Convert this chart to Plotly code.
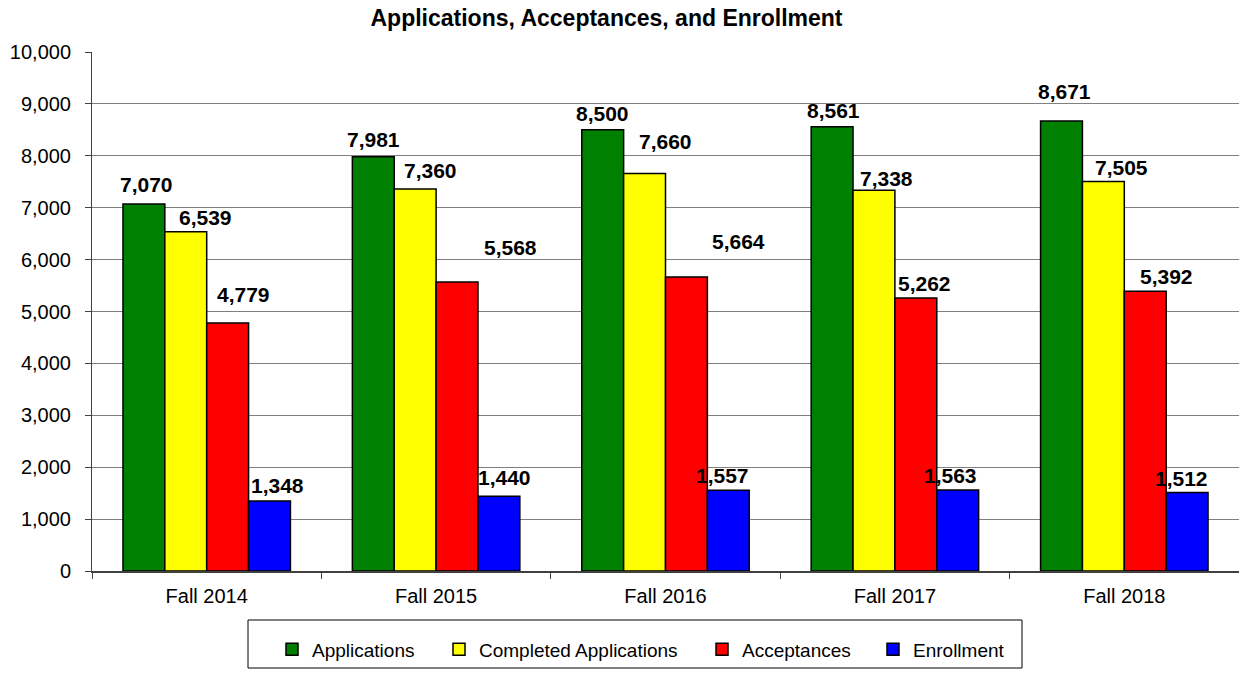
import plotly.graph_objects as go

categories = ["Fall 2014", "Fall 2015", "Fall 2016", "Fall 2017", "Fall 2018"]
applications = [7070, 7981, 8500, 8561, 8671]
completed = [6539, 7360, 7660, 7338, 7505]
acceptances = [4779, 5568, 5664, 5262, 5392]
enrollment = [1348, 1440, 1557, 1563, 1512]

series_names = ["Applications", "Completed Applications", "Acceptances", "Enrollment"]
series_values = [applications, completed, acceptances, enrollment]
series_colors = ["#008000", "#FFFF00", "#FF0000", "#0000FF"]

# hand-placed data label nudges seen in the reference (pixels: right, up)
label_dx = [[3, 0, 0, 1, 3],
            [20, 15, 21, 13, 18],
            [16, 53, 52, 9, 21],
            [8, 6, -6, -7, -6]]
label_dy = [[5, 3, 2, 2, 15],
            [0, 4, 17, -3, -1],
            [14, 20, 21, 0, 0],
            [1, 4, 0, 0, 0]]
# legend entry widths (px) to reproduce the reference spacing
legend_widths = [122, 218, 126, 92]

FONT = "Arial, Liberation Sans, sans-serif"

W, H = 1239, 679
ML, MT, MB = 92, 52, 108
PW, PH = W - ML, H - MT - MB
BARGAP = 0.27
NS = len(series_names)
BW = (1 - BARGAP) / NS

fig = go.Figure()
annotations = []
for j, (name, vals, color) in enumerate(zip(series_names, series_values, series_colors)):
    fig.add_trace(go.Bar(
        name=name, x=categories, y=vals,
        marker=dict(color=color, line=dict(color="black", width=1.5)),
        cliponaxis=False,
        legendwidth=legend_widths[j],
    ))
    for i, v in enumerate(vals):
        annotations.append(dict(
            x=i + (j - (NS - 1) / 2) * BW, y=v, xref="x", yref="y",
            text=f"<b>{v:,}</b>", showarrow=False,
            xanchor="center", yanchor="bottom",
            xshift=label_dx[j][i], yshift=1 + label_dy[j][i],
            font=dict(family=FONT, size=21, color="black"),
        ))

fig.update_layout(
    width=W, height=H,
    margin=dict(l=ML, r=0, t=MT, b=MB),
    paper_bgcolor="white", plot_bgcolor="white",
    barmode="group", bargap=BARGAP, bargroupgap=0,
    title=dict(text="<b>Applications, Acceptances, and Enrollment</b>",
               x=606.5 / W, xanchor="center", y=1.0, yanchor="top",
               pad=dict(t=10, b=0),
               font=dict(family=FONT, size=23, color="black")),
    font=dict(family=FONT, size=20, color="black"),
    showlegend=True,
    legend=dict(orientation="h", x=(272 - ML) / PW, xanchor="left",
                y=-(649.5 - (H - MB)) / PH, yanchor="middle",
                font=dict(family=FONT, size=19, color="black"),
                bgcolor="rgba(0,0,0,0)", borderwidth=0,
                itemwidth=30, traceorder="normal"),
    annotations=annotations,
    shapes=[dict(type="rect", xref="paper", yref="paper",
                 x0=(248 - ML) / PW, x1=(1022 - ML) / PW,
                 y0=-(668 - (H - MB)) / PH, y1=-(620 - (H - MB)) / PH,
                 line=dict(color="black", width=1), fillcolor="rgba(0,0,0,0)")],
)

fig.update_yaxes(range=[0, 10000], dtick=1000, tickformat=",",
                 showgrid=True, gridcolor="#808080", gridwidth=1,
                 showline=True, linecolor="#404040", linewidth=1,
                 ticks="outside", ticklen=6, tickcolor="#404040",
                 ticklabelstandoff=10,
                 zeroline=False,
                 tickfont=dict(family=FONT, size=20, color="black"))
fig.update_xaxes(showline=True, linecolor="#404040", linewidth=1.5,
                 ticks="outside", tickson="boundaries", ticklen=6,
                 tickcolor="#404040", ticklabelstandoff=6,
                 tickfont=dict(family=FONT, size=20, color="black"))

# remove the browser's default 8px page margin so the figure fills the window
fig.write_html("out.html", config={"displayModeBar": False},
               post_script="document.body.style.margin='0';")
